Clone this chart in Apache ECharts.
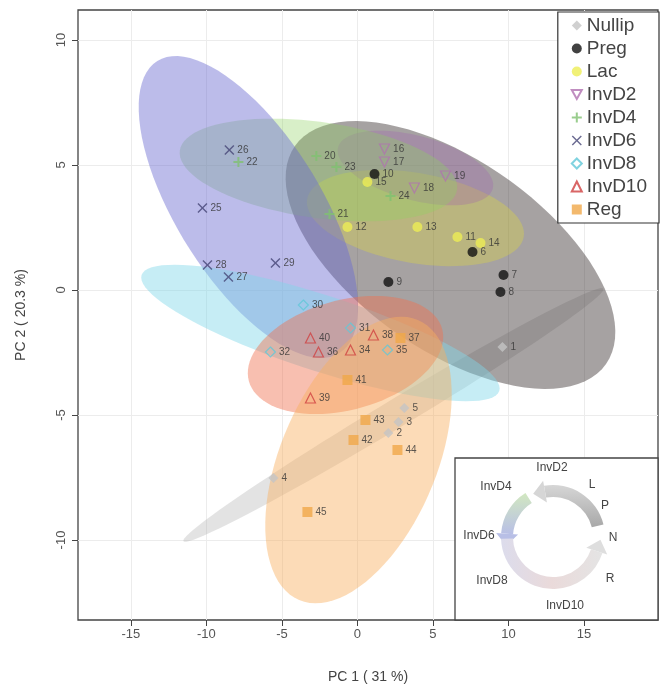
<!DOCTYPE html>
<html><head><meta charset="utf-8">
<script src="https://cdn.jsdelivr.net/npm/echarts@6/dist/echarts.min.js"></script>
<style>html,body{margin:0;padding:0;background:#fff}#c{width:671px;height:698px}</style>
</head><body><div id="c"></div>
<script>
// ---- data ----
const groups = ['Nullip','Preg','Lac','InvD2','InvD4','InvD6','InvD8','InvD10','Reg'];
const xTicks = [-15,-10,-5,0,5,10,15];
const yTicks = [-10,-5,0,5,10];
// points: [PC1, PC2, sample label]
const nullipPts = [[9.60,-2.28,'1'],[2.05,-5.72,'2'],[2.72,-5.28,'3'],[-5.56,-7.52,'4'],[3.11,-4.72,'5']];
const pregPts   = [[7.62,1.52,'6'],[9.67,0.60,'7'],[9.47,-0.08,'8'],[2.05,0.32,'9'],[1.13,4.64,'10']];
const lacPts    = [[6.62,2.12,'11'],[-0.66,2.52,'12'],[3.97,2.52,'13'],[8.15,1.88,'14'],[0.66,4.32,'15']];
const invD2Pts  = [[1.79,5.64,'16'],[1.79,5.12,'17'],[3.77,4.08,'18'],[5.83,4.56,'19']];
const invD4Pts  = [[-2.72,5.36,'20'],[-1.85,3.04,'21'],[-7.88,5.12,'22'],[-1.39,4.92,'23'],[2.19,3.76,'24']];
const invD6Pts  = [[-10.26,3.28,'25'],[-8.48,5.60,'26'],[-8.54,0.52,'27'],[-9.93,1.00,'28'],[-5.43,1.08,'29']];
const invD8Pts  = [[-3.58,-0.60,'30'],[-0.46,-1.52,'31'],[-5.76,-2.48,'32'],[1.99,-2.40,'35']];
const invD10Pts = [[-0.46,-2.40,'34'],[-3.11,-1.92,'40'],[-2.58,-2.48,'36'],[1.06,-1.80,'38'],[-3.11,-4.32,'39']];
const regPts    = [[2.85,-1.92,'37'],[-0.66,-3.60,'41'],[-0.26,-6.00,'42'],[0.53,-5.20,'43'],[2.65,-6.40,'44'],[-3.31,-8.88,'45']];
// confidence ellipses: [centerX, centerY, axis1X, axis1Y, axis2X, axis2Y] in data units
const nullipEll = [2.38,-5.0, 13.9,5.05, 0.48,-0.48];
const pregEll   = [6.16,1.4, 10.3,-4.36, -3.61,-3.11];
const lacEll    = [3.84,2.88, 7.17,-0.76, -0.52,-1.77];
const invD2Ell  = [3.84,4.88, 5.12,-0.83, -0.55,-1.24];
const invD4Ell  = [-2.58,4.8, 9.18,-0.78, -0.44,-1.9];
const invD6Ell  = [-7.22,3.32, 6.03,-5.84, -4.05,-1.53];
const invD8Ell  = [-2.45,-1.72, 11.84,-2.32, -0.78,-1.44];
const invD10Ell = [-0.79,-2.6, 6.4,1.04, 0.94,-2.12];
const regEll    = [0.07,-6.8, 3.93,5.6, 4.76,-1.22];

const pts = [nullipPts,pregPts,lacPts,invD2Pts,invD4Pts,invD6Pts,invD8Pts,invD10Pts,regPts];
const ells = [nullipEll,pregEll,lacEll,invD2Ell,invD4Ell,invD6Ell,invD8Ell,invD10Ell,regEll];

// ---- styles ----
const ellFill = ['#a8a8a8','#3a3030','#e8e030','#a060b0','#90d060','#6a6ad0','#80d8e8','#f07050','#f8b060'];
const ellOpacity = [0.32,0.45,0.3,0.3,0.35,0.45,0.45,0.45,0.45];
const sym = [
  {symbol:'diamond', size:8, itemStyle:{color:'#c4c4c4'}},
  {symbol:'circle', size:7, itemStyle:{color:'#111'}},
  {symbol:'circle', size:8, itemStyle:{color:'#eeee55'}},
  {symbol:'path://M0,0L10,0L5,9Z', size:7, itemStyle:{color:'rgba(0,0,0,0)', borderColor:'#b070b0', borderWidth:1.2}},
  {symbol:'path://M4,0H6V4H10V6H6V10H4V6H0V4H4Z', size:8, itemStyle:{color:'#80c070'}},
  {symbol:'path://M1,0L5,4L9,0L10,1L6,5L10,9L9,10L5,6L1,10L0,9L4,5L0,1Z', size:7, itemStyle:{color:'#454575'}},
  {symbol:'diamond', size:8, itemStyle:{color:'rgba(0,0,0,0)', borderColor:'#60c8d8', borderWidth:1.2}},
  {symbol:'triangle', size:8, itemStyle:{color:'rgba(0,0,0,0)', borderColor:'#d04040', borderWidth:1.2}},
  {symbol:'rect', size:7, itemStyle:{color:'#f0a848'}}
];

const series = [];
series.push({
  type:'scatter', name:'_grid', data:[], silent:true, z:0,
  markLine:{silent:true, symbol:'none', label:{show:false}, animation:false, z:0,
    lineStyle:{color:'#ececec', type:'solid', width:1},
    data:[...xTicks.map(v=>({xAxis:v})), ...yTicks.map(v=>({yAxis:v}))]}
});
series.push({
  type:'custom', name:'_ellipses', silent:true, z:1, clip:true,
  data: ells.map((e,i)=>[e[0],e[1],i]),
  encode:{x:0,y:1},
  renderItem:function(params, api){
    const i = params.dataIndex, e = ells[i];
    const poly = [];
    for (let k=0;k<=90;k++){
      const t = k/90*2*Math.PI;
      poly.push(api.coord([e[0]+Math.cos(t)*e[2]+Math.sin(t)*e[4], e[1]+Math.cos(t)*e[3]+Math.sin(t)*e[5]]));
    }
    return {type:'polygon', shape:{points:poly}, style:{fill:ellFill[i], opacity:ellOpacity[i]}};
  }
});
groups.forEach((g,i)=>{
  series.push(Object.assign({
    type:'scatter', name:g, z:3,
    data: pts[i].map(p=>[p[0],p[1],p[2]]),
    label:{show:true, position:'right', distance:3, formatter:p=>p.data[2], fontSize:10, color:'#333', fontFamily:'Liberation Sans'},
    emphasis:{disabled:true}
  }, sym[i]));
});

// ---- inset cycle diagram ----
const cx = 553, cy = 537, R = 52, R0 = 40;
const d2r = Math.PI/180;
function arrowHead(angDeg, color){
  const a = angDeg*d2r, rm = (R+R0)/2;
  const tx = Math.sin(a), ty = -Math.cos(a); // CCW tangent in screen coords
  const px = cx + rm*Math.cos(a), py = cy + rm*Math.sin(a);
  const nx = Math.cos(a), ny = Math.sin(a);
  const w = 11, L = 12;
  return {type:'polygon', z:12, shape:{points:[[px+nx*w, py+ny*w],[px-nx*w, py-ny*w],[px+tx*L, py+ty*L]]}, style:{fill:color}};
}
function sector(s,e,fill){
  return {type:'sector', z:12, shape:{cx:cx, cy:cy, r:R, r0:R0, startAngle:s*d2r, endAngle:e*d2r, clockwise:false}, style:{fill:fill}};
}
const insetLabels = [
  ['InvD2',552,468],['L',592,485],['P',605,506],['N',613,538],['R',610,579],
  ['InvD10',565,606],['InvD8',492,581],['InvD6',479,536],['InvD4',496,487]
];
const graphic = [
  {type:'rect', z:10, shape:{x:455, y:458, width:203, height:162}, style:{fill:'#fff', stroke:'#444', lineWidth:1.3}},
  sector(-14,-100,{type:'linear',x:0,y:1,x2:0,y2:0,colorStops:[{offset:0,color:'#a8a8a8'},{offset:1,color:'#d6d6d6'}]}),
  arrowHead(-100,'#d6d6d6'),
  sector(-122,-176,{type:'linear',x:0,y:0,x2:0,y2:1,colorStops:[{offset:0,color:'#d2e8c0'},{offset:1,color:'#b8bfe6'}]}),
  arrowHead(-176,'#b8bfe6'),
  sector(178,18,{type:'linear',x:0,y:0,x2:1,y2:0,colorStops:[{offset:0,color:'#dcdcec'},{offset:0.5,color:'#eadada'},{offset:1,color:'#e4e4e4'}]}),
  arrowHead(18,'#dedede'),
  ...insetLabels.map(l=>({type:'text', z:13, style:{text:l[0], x:l[1], y:l[2], textAlign:'center', textVerticalAlign:'middle', fontSize:12, fill:'#444', fontFamily:'Liberation Sans'}}))
];

const chart = echarts.init(document.getElementById('c'), null, {renderer:'canvas'});
chart.setOption({
  animation:false,
  backgroundColor:'#fff',
  grid:{left:78, right:13, top:10, bottom:78, show:true, borderColor:'#444', borderWidth:1.3, backgroundColor:'transparent'},
  xAxis:{type:'value', min:-18.5, max:19.9, position:'bottom',
    name:'PC 1 ( 31 %)', nameLocation:'middle', nameGap:50,
    nameTextStyle:{fontSize:14, color:'#444', fontFamily:'Liberation Sans'},
    axisLine:{show:false, onZero:false}, splitLine:{show:false},
    axisTick:{show:true, customValues:xTicks, length:6, lineStyle:{color:'#444'}},
    axisLabel:{customValues:xTicks, fontSize:13, color:'#555', margin:8, fontFamily:'Liberation Sans'}},
  yAxis:{type:'value', min:-13.2, max:11.2, position:'left',
    name:'PC 2 ( 20.3 %)', nameLocation:'middle', nameGap:50,
    nameTextStyle:{fontSize:14, color:'#444', fontFamily:'Liberation Sans'},
    axisLine:{show:false, onZero:false}, splitLine:{show:false},
    axisTick:{show:true, customValues:yTicks, length:6, lineStyle:{color:'#444'}},
    axisLabel:{customValues:yTicks, rotate:90, fontSize:13, color:'#555', margin:10, fontFamily:'Liberation Sans'}},
  legend:{orient:'vertical', right:12, top:12, data:groups, itemWidth:10, itemHeight:10, itemGap:4,
    padding:[4,12,4,13], borderColor:'#333', borderWidth:1.2, backgroundColor:'#fff',
    textStyle:{fontSize:19, color:'#444', fontFamily:'Liberation Sans'}, selectedMode:false, z:20},
  series:series,
  graphic:graphic
});
</script></body></html>
